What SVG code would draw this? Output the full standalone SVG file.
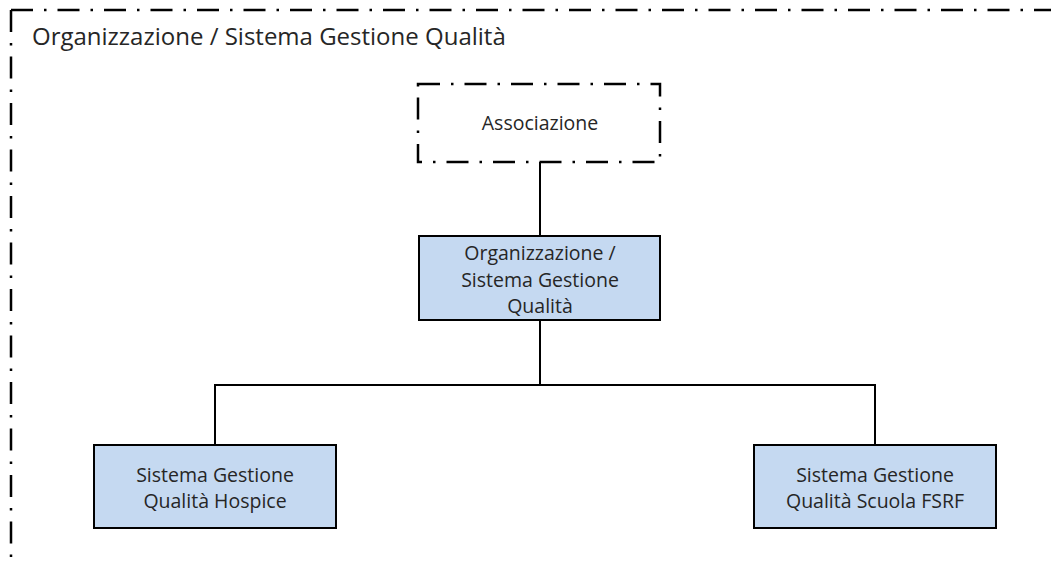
<svg xmlns="http://www.w3.org/2000/svg" width="1051" height="564" viewBox="0 0 1051 564">
  <style>
    .frame { fill: none; stroke: #000; stroke-width: 2.5; stroke-dasharray: 22 11 2.5 11; }
    .box { fill: #C5D9F1; stroke: #000; stroke-width: 2; }
    .dbox { fill: #fff; stroke: #000; stroke-width: 2.5; stroke-dasharray: 22 11 2.5 11; }
    .lbl { font-family: "Open Sans", "Liberation Sans", sans-serif; font-size: 19.5px; fill: #262626; text-anchor: middle; }
    .title { font-family: "Open Sans", "Liberation Sans", sans-serif; font-size: 24px; fill: #262626; }
    .conn { fill: none; stroke: #000; stroke-width: 2; }
  </style>
  <rect width="1051" height="564" fill="#fff"/>

  <!-- outer dash-dot boundary -->
  <g id="boundary">
    <path class="frame" d="M11,10 L1051,10"/>
    <path class="frame" d="M11,10 L11,564"/>
    <text class="title" x="32" y="45">Organizzazione / Sistema Gestione Qualità</text>
  </g>

  <!-- connectors -->
  <g id="connectors">
    <path class="conn" d="M540,162 L540,236"/>
    <path class="conn" d="M540,320 L540,385"/>
    <path class="conn" d="M215,445 L215,385 L875,385 L875,445"/>
  </g>

  <g id="associazione">
    <rect class="dbox" x="418" y="84" width="242" height="78"/>
    <text class="lbl" x="540" y="130">Associazione</text>
  </g>

  <g id="organizzazione">
    <rect class="box" x="419" y="236" width="241" height="84"/>
    <text class="lbl" x="540" y="260">Organizzazione /</text>
    <text class="lbl" x="540" y="287">Sistema Gestione</text>
    <text class="lbl" x="540" y="313">Qualità</text>
  </g>

  <g id="sgq-hospice">
    <rect class="box" x="94" y="445" width="242" height="83"/>
    <text class="lbl" x="215" y="482">Sistema Gestione</text>
    <text class="lbl" x="215" y="508">Qualità Hospice</text>
  </g>

  <g id="sgq-scuola">
    <rect class="box" x="754" y="445" width="242" height="83"/>
    <text class="lbl" x="875" y="482">Sistema Gestione</text>
    <text class="lbl" x="875" y="508">Qualità Scuola FSRF</text>
  </g>
</svg>
